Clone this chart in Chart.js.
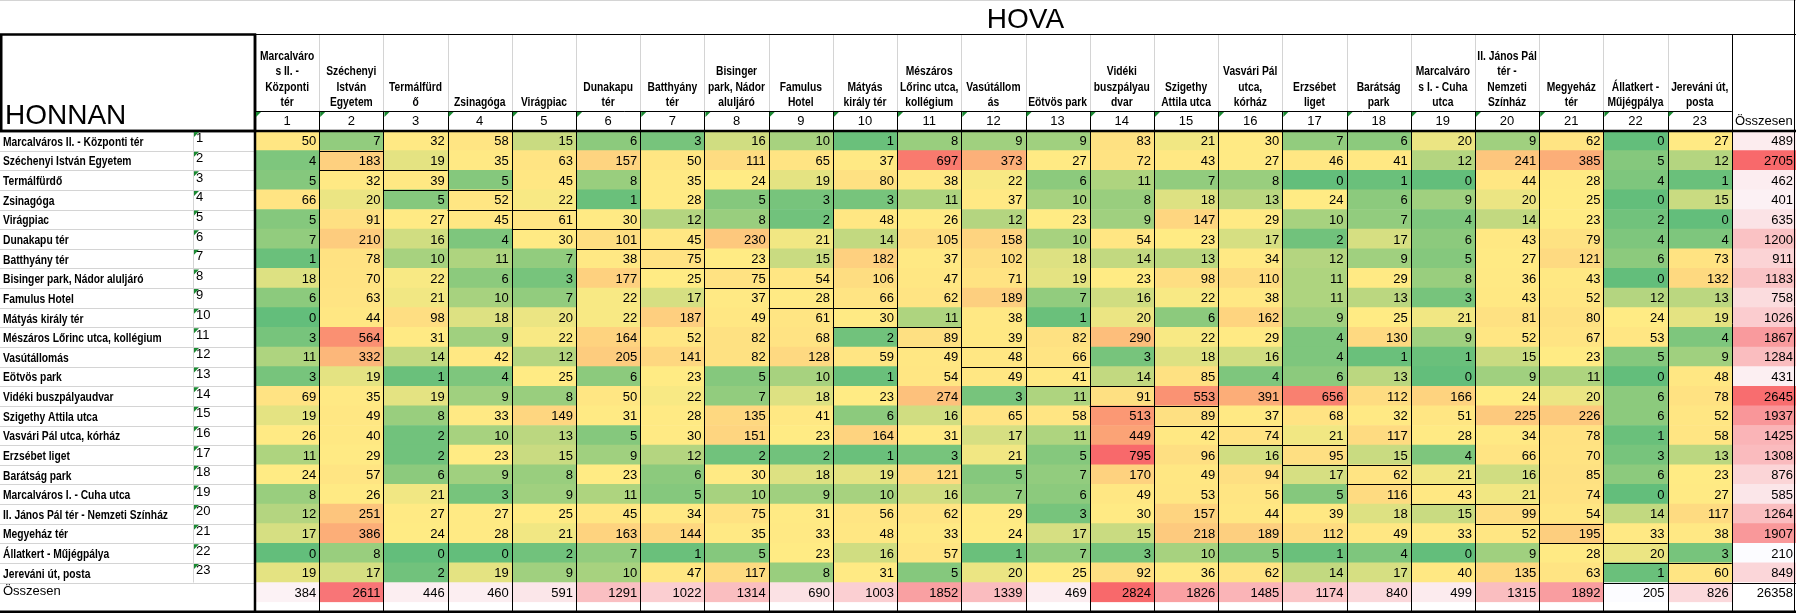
<!DOCTYPE html>
<html lang="hu">
<head>
<meta charset="utf-8">
<title>HONNAN – HOVA</title>
<script src="https://cdn.jsdelivr.net/npm/chart.js"></script>
<style>
  html, body { margin: 0; padding: 0; background: #fff; }
  #wrap { width: 1796px; height: 613px; }
</style>
</head>
<body>
<div id="wrap"><canvas id="myChart" width="1796" height="613"></canvas></div>
<script>
// megállók (sorok: HONNAN)
const megallok = [
    "Marcalváros II. - Központi tér", "Széchenyi István Egyetem", "Termálfürdő", "Zsinagóga",
    "Virágpiac", "Dunakapu tér", "Batthyány tér", "Bisinger park, Nádor aluljáró", "Famulus Hotel",
    "Mátyás király tér", "Mészáros Lőrinc utca, kollégium", "Vasútállomás", "Eötvös park",
    "Vidéki buszpályaudvar", "Szigethy Attila utca", "Vasvári Pál utca, kórház", "Erzsébet liget",
    "Barátság park", "Marcalváros I. - Cuha utca", "II. János Pál tér - Nemzeti Színház",
    "Megyeház tér", "Állatkert - Műjégpálya", "Jereváni út, posta"
];

// oszlopfejlécek (HOVA), úgy tördelve ahogy a táblában
const oszlopFejlec = [
    ["Marcalváro", "s II. -", "Központi", "tér"], ["Széchenyi", "István", "Egyetem"], ["Termálfürd", "ő"],
    ["Zsinagóga"], ["Virágpiac"], ["Dunakapu", "tér"], ["Batthyány", "tér"], ["Bisinger", "park, Nádor", "aluljáró"],
    ["Famulus", "Hotel"], ["Mátyás", "király tér"], ["Mészáros", "Lőrinc utca,", "kollégium"], ["Vasútállom", "ás"],
    ["Eötvös park"], ["Vidéki", "buszpályau", "dvar"], ["Szigethy", "Attila utca"], ["Vasvári Pál", "utca,", "kórház"],
    ["Erzsébet", "liget"], ["Barátság", "park"], ["Marcalváro", "s I. - Cuha", "utca"],
    ["II. János Pál", "tér -", "Nemzeti", "Színház"], ["Megyeház", "tér"], ["Állatkert -", "Műjégpálya"],
    ["Jereváni út,", "posta"]
];

const sorszamok = ["1", "2", "3", "4", "5", "6", "7", "8", "9", "10", "11", "12",
    "13", "14", "15", "16", "17", "18", "19", "20", "21", "22", "23"];
const osszesenFelirat = "Összesen";

// utasszámok soronként
const sor01 = [50, 7, 32, 58, 15, 6, 3, 16, 10, 1, 8, 9, 9, 83, 21, 30, 7, 6, 20, 9, 62, 0, 27];
const sor02 = [4, 183, 19, 35, 63, 157, 50, 111, 65, 37, 697, 373, 27, 72, 43, 27, 46, 41, 12, 241, 385, 5, 12];
const sor03 = [5, 32, 39, 5, 45, 8, 35, 24, 19, 80, 38, 22, 6, 11, 7, 8, 0, 1, 0, 44, 28, 4, 1];
const sor04 = [66, 20, 5, 52, 22, 1, 28, 5, 3, 3, 11, 37, 10, 8, 18, 13, 24, 6, 9, 20, 25, 0, 15];
const sor05 = [5, 91, 27, 45, 61, 30, 12, 8, 2, 48, 26, 12, 23, 9, 147, 29, 10, 7, 4, 14, 23, 2, 0];
const sor06 = [7, 210, 16, 4, 30, 101, 45, 230, 21, 14, 105, 158, 10, 54, 23, 17, 2, 17, 6, 43, 79, 4, 4];
const sor07 = [1, 78, 10, 11, 7, 38, 75, 23, 15, 182, 37, 102, 18, 14, 13, 34, 12, 9, 5, 27, 121, 6, 73];
const sor08 = [18, 70, 22, 6, 3, 177, 25, 75, 54, 106, 47, 71, 19, 23, 98, 110, 11, 29, 8, 36, 43, 0, 132];
const sor09 = [6, 63, 21, 10, 7, 22, 17, 37, 28, 66, 62, 189, 7, 16, 22, 38, 11, 13, 3, 43, 52, 12, 13];
const sor10 = [0, 44, 98, 18, 20, 22, 187, 49, 61, 30, 11, 38, 1, 20, 6, 162, 9, 25, 21, 81, 80, 24, 19];
const sor11 = [3, 564, 31, 9, 22, 164, 52, 82, 68, 2, 89, 39, 82, 290, 22, 29, 4, 130, 9, 52, 67, 53, 4];
const sor12 = [11, 332, 14, 42, 12, 205, 141, 82, 128, 59, 49, 48, 66, 3, 18, 16, 4, 1, 1, 15, 23, 5, 9];
const sor13 = [3, 19, 1, 4, 25, 6, 23, 5, 10, 1, 54, 49, 41, 14, 85, 4, 6, 13, 0, 9, 11, 0, 48];
const sor14 = [69, 35, 19, 9, 8, 50, 22, 7, 18, 23, 274, 3, 11, 91, 553, 391, 656, 112, 166, 24, 20, 6, 78];
const sor15 = [19, 49, 8, 33, 149, 31, 28, 135, 41, 6, 16, 65, 58, 513, 89, 37, 68, 32, 51, 225, 226, 6, 52];
const sor16 = [26, 40, 2, 10, 13, 5, 30, 151, 23, 164, 31, 17, 11, 449, 42, 74, 21, 117, 28, 34, 78, 1, 58];
const sor17 = [11, 29, 2, 23, 15, 9, 12, 2, 2, 1, 3, 21, 5, 795, 96, 16, 95, 15, 4, 66, 70, 3, 13];
const sor18 = [24, 57, 6, 9, 8, 23, 6, 30, 18, 19, 121, 5, 7, 170, 49, 94, 17, 62, 21, 16, 85, 6, 23];
const sor19 = [8, 26, 21, 3, 9, 11, 5, 10, 9, 10, 16, 7, 6, 49, 53, 56, 5, 116, 43, 21, 74, 0, 27];
const sor20 = [12, 251, 27, 27, 25, 45, 34, 75, 31, 56, 62, 29, 3, 30, 157, 44, 39, 18, 15, 99, 54, 14, 117];
const sor21 = [17, 386, 24, 28, 21, 163, 144, 35, 33, 48, 33, 24, 17, 15, 218, 189, 112, 49, 33, 52, 195, 33, 38];
const sor22 = [0, 8, 0, 0, 2, 7, 1, 5, 23, 16, 57, 1, 7, 3, 10, 5, 1, 4, 0, 9, 28, 20, 3];
const sor23 = [19, 17, 2, 19, 9, 10, 47, 117, 8, 31, 5, 20, 25, 92, 36, 62, 14, 17, 40, 135, 63, 1, 60];

const sorOsszeg = [489, 2705, 462, 401, 635, 1200, 911, 1183, 758, 1026, 1867, 1284, 431,
    2645, 1937, 1425, 1308, 876, 585, 1264, 1907, 210, 849];
const oszlopOsszeg = [384, 2611, 446, 460, 591, 1291, 1022, 1314, 690, 1003, 1852, 1339, 469,
    2824, 1826, 1485, 1174, 840, 499, 1315, 1892, 205, 826];
const vegosszeg = 26358;

const matrix = [sor01, sor02, sor03, sor04, sor05, sor06, sor07, sor08, sor09, sor10, sor11, sor12,
    sor13, sor14, sor15, sor16, sor17, sor18, sor19, sor20, sor21, sor22, sor23];

const BETU = '"Liberation Sans", Arial, sans-serif';
const NEV_BETU = 'bold 12.5px "Liberation Sans Narrow", "Liberation Sans", Arial, sans-serif';
const SZURKE = "#d4d4d4";

// a táblában keskeny félkövér betű van; ha nincs ilyen, vízszintesen összenyomjuk
const meroCtx = document.createElement("canvas").getContext("2d");
meroCtx.font = NEV_BETU;
const nevSzelesseg = Math.max(...megallok.map((m) => meroCtx.measureText(m).width));
const nyomas = Math.min(1, 165 / nevSzelesseg);

// színskálák (Excel: zöld - sárga - piros, illetve fehér - piros)
const ZOLD = [99, 190, 123], SARGA = [255, 235, 132], PIROS = [248, 105, 107], FEHER = [252, 252, 255];

function keverd(a, b, t) {
    t = Math.max(0, Math.min(1, t));
    return "rgb(" + [0, 1, 2].map((k) => Math.round(a[k] + (b[k] - a[k]) * t)).join(",") + ")";
}

const osszes = matrix.flat().slice().sort((a, b) => a - b);
const minErtek = osszes[0];
const maxErtek = osszes[osszes.length - 1];
const kozep = osszes[Math.floor((osszes.length - 1) / 2)];

function haromSzin(v) {
    if (v <= kozep) return keverd(ZOLD, SARGA, (v - minErtek) / (kozep - minErtek));
    return keverd(SARGA, PIROS, (v - kozep) / (maxErtek - kozep));
}

function ketSzin(v, lista) {
    const lo = Math.min(...lista), hi = Math.max(...lista);
    return keverd(FEHER, PIROS, (v - lo) / (hi - lo));
}

const sorCimkek = megallok.concat([osszesenFelirat]);

// egy adatsor = egy oszlop a táblában (az utolsó az összesen oszlop)
const datasets = [];
for (let j = 0; j <= oszlopFejlec.length; j++) {
    const adat = [];
    const szinek = [];
    sorCimkek.forEach((cimke, i) => {
        let ertek, szin;
        if (j < oszlopFejlec.length && i < megallok.length) {
            ertek = matrix[i][j];
            szin = haromSzin(ertek);
        } else if (j < oszlopFejlec.length) {
            ertek = oszlopOsszeg[j];
            szin = ketSzin(ertek, oszlopOsszeg);
        } else if (i < megallok.length) {
            ertek = sorOsszeg[i];
            szin = ketSzin(ertek, sorOsszeg);
        } else {
            ertek = vegosszeg;
            szin = "#ffffff";
        }
        adat.push({ x: 1, y: cimke, ertek: ertek });
        szinek.push(szin);
    });
    datasets.push({
        data: adat,
        backgroundColor: szinek,
        borderWidth: 0,
        barPercentage: 1,
        categoryPercentage: 1,
        stack: "tabla",
    });
}

// számok a cellákban, keretek, feliratok
const tablaKeret = {
    id: "tablaKeret",
    afterDatasetsDraw(chart) {
        const ctx = chart.ctx;
        const xs = chart.scales.x, ys = chart.scales.y;
        const fej = chart.scales.xNev, szam = chart.scales.xSzam, sorSzam = chart.scales.ySzam;
        const area = chart.chartArea;
        const W = chart.width, H = chart.height;
        const nCol = oszlopFejlec.length, nRow = megallok.length;
        const oX = (k) => xs.getPixelForValue(k);
        const sY = (k) => ys.getPixelForValue(k - 0.5);
        const r = (v) => Math.round(v) + 0.5;

        ctx.save();
        ctx.font = "13px " + BETU;
        ctx.fillStyle = "#000";
        ctx.textAlign = "right";
        ctx.textBaseline = "middle";
        chart.data.datasets.forEach((ds, j) => {
            chart.getDatasetMeta(j).data.forEach((el, i) => {
                ctx.fillText(String(ds.data[i].ertek), el.x - 3, el.y + 1);
            });
        });

        // sorfeliratok (HONNAN) és oszlopfejlécek (HOVA)
        const nyomottSzoveg = (szoveg, x, y, igazit) => {
            ctx.save();
            ctx.translate(x, y);
            ctx.scale(nyomas, 1);
            ctx.textAlign = igazit;
            ctx.fillText(szoveg, 0, 0);
            ctx.restore();
        };
        ctx.textBaseline = "alphabetic";
        ctx.font = NEV_BETU;
        ys.getLabels().forEach((cimke, i) => {
            const y = ys.getPixelForValue(i);
            if (i < nRow) {
                nyomottSzoveg(cimke, 3, y + 5, "left");
            } else {
                ctx.font = "13px " + BETU;
                ctx.textAlign = "left";
                ctx.fillText(cimke, 3, y + 3);
                ctx.font = NEV_BETU;
            }
        });
        fej.getLabels().forEach((sorok, j) => {
            const x = fej.getPixelForValue(j);
            const lista = [].concat(sorok);
            lista.forEach((szoveg, k) => {
                const y = fej.bottom - 5 - (lista.length - 1 - k) * 15.5;
                nyomottSzoveg(szoveg, x, y, "center");
            });
        });

        const vonal = (x1, y1, x2, y2, szin, w) => {
            ctx.beginPath();
            ctx.strokeStyle = szin;
            ctx.lineWidth = w;
            ctx.moveTo(x1, y1);
            ctx.lineTo(x2, y2);
            ctx.stroke();
        };

        // szürke rácsvonalak
        vonal(0, 0.5, W, 0.5, SZURKE, 1);
        for (let k = 1; k <= nRow; k++) vonal(0, r(sY(k)), area.left, r(sY(k)), SZURKE, 1);
        const elvX = r(sorSzam.left - 3);
        vonal(elvX, area.top, elvX, sY(nRow), SZURKE, 1);
        for (let k = 1; k < nCol; k++) vonal(r(oX(k)), fej.top, r(oX(k)), fej.bottom, SZURKE, 1);

        // fekete keretek
        vonal(area.left, r(fej.top), W, r(fej.top), "#000", 1);
        vonal(area.left, r(szam.top), oX(nCol), r(szam.top), "#000", 1);
        for (let k = 1; k < nCol; k++) vonal(r(oX(k)), szam.top, r(oX(k)), H, "#000", 1);
        vonal(r(oX(nCol)), fej.top, r(oX(nCol)), H, "#000", 1);
        vonal(W - 1.5, 0, W - 1.5, H, "#000", 1);

        // átló menti cellák keretei
        for (let i = 1; i < nRow; i++) {
            vonal(oX(i), r(sY(i)), oX(i + 1), r(sY(i)), "#000", 1);
            vonal(oX(i), r(sY(i + 1)), oX(i + 1), r(sY(i + 1)), "#000", 1);
        }
        vonal(oX(nCol - 2), r(sY(nRow)), W, r(sY(nRow)), "#000", 1);

        // vastag keretek
        vonal(0, area.top, W, area.top, "#000", 2.5);
        vonal(area.left, fej.top, area.left, H, "#000", 2.5);
        ctx.strokeStyle = "#000";
        ctx.lineWidth = 2.5;
        ctx.strokeRect(1.25, fej.top + 0.5, area.left - 1.25, area.top - fej.top - 0.5);
        vonal(0, H - 1.25, W, H - 1.25, "#000", 2.5);

        // zöld háromszögek (Excel hibajelzés)
        ctx.fillStyle = "#1a8a32";
        const haromszog = (x, y) => {
            ctx.beginPath();
            ctx.moveTo(x, y);
            ctx.lineTo(x + 5, y);
            ctx.lineTo(x, y + 5);
            ctx.closePath();
            ctx.fill();
        };
        for (let k = 0; k < nCol; k++) haromszog(oX(k) + 1, szam.top + 1);
        for (let i = 0; i < nRow; i++) haromszog(elvX + 0.5, sY(i) + 1);

        // HONNAN felirat
        ctx.fillStyle = "#000";
        ctx.textAlign = "left";
        ctx.textBaseline = "alphabetic";
        ctx.font = "28px " + BETU;
        ctx.fillText("HONNAN", 5, area.top - 7);
        ctx.restore();
    },
};

const config = {
    type: "bar",
    data: {
        labels: sorCimkek,
        datasets: datasets,
    },
    options: {
        indexAxis: "y",
        responsive: false,
        animation: false,
        devicePixelRatio: 1,
        layout: { padding: { left: 3, right: 0, top: 0, bottom: 2 }, autoPadding: false },
        plugins: {
            legend: { display: false },
            tooltip: { enabled: false },
            title: {
                display: true,
                text: "HOVA",
                fullSize: false,
                color: "#000",
                font: { family: BETU, size: 28, weight: "normal", lineHeight: 1 },
                padding: { top: 6, bottom: 0 },
            },
        },
        scales: {
            x: {
                type: "linear",
                stacked: true,
                min: 0,
                max: oszlopFejlec.length + 1,
                display: false,
            },
            y: {
                type: "category",
                stacked: true,
                position: "left",
                weight: 2,
                grid: { display: false },
                border: { display: false },
                afterFit: (scale) => { scale.width = 193; },
                ticks: { display: false, autoSkip: false },
            },
            ySzam: {
                type: "category",
                position: "left",
                weight: 1,
                labels: sorszamok.concat([""]),
                offset: true,
                grid: { display: false },
                border: { display: false },
                afterFit: (scale) => { scale.width = 59; },
                ticks: {
                    autoSkip: false,
                    crossAlign: "far",
                    labelOffset: -2,
                    color: "#000",
                    font: { family: BETU, size: 13 },
                },
            },
            xNev: {
                type: "category",
                position: "top",
                weight: 2,
                labels: oszlopFejlec.concat([""]),
                offset: true,
                grid: { display: false, drawTicks: false },
                border: { display: false },
                afterFit: (scale) => { scale.height = 77; },
                ticks: { display: false, autoSkip: false },
            },
            xSzam: {
                type: "category",
                position: "top",
                weight: 1,
                labels: sorszamok.concat([osszesenFelirat]),
                offset: true,
                grid: { display: false, drawTicks: false },
                border: { display: false },
                afterFit: (scale) => { scale.height = 20; },
                ticks: {
                    autoSkip: false,
                    maxRotation: 0,
                    minRotation: 0,
                    padding: 2,
                    color: "#000",
                    font: { family: BETU, size: 13 },
                },
            },
        },
    },
    plugins: [tablaKeret],
};

const myChart = new Chart(document.getElementById("myChart"), config);
</script>
</body>
</html>
